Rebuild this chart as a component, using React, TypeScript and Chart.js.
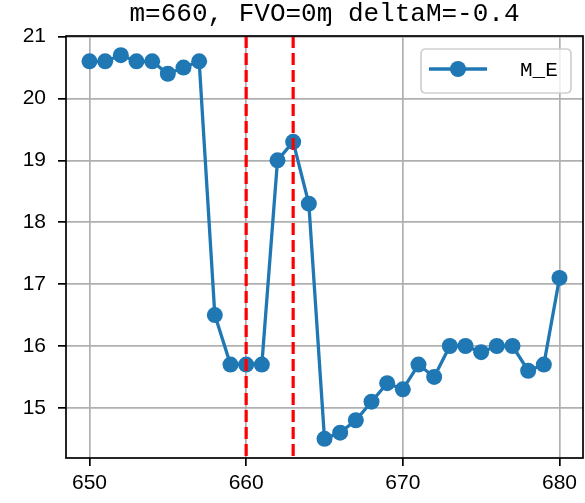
import React, { useEffect, useRef } from "react";
import { Chart, registerables } from "chart.js";

Chart.register(...registerables);

const xValues = [650, 651, 652, 653, 654, 655, 656, 657, 658, 659, 660, 661, 662, 663, 664, 665, 666, 667, 668, 669, 670, 671, 672, 673, 674, 675, 676, 677, 678, 679, 680];
const meValues = [20.6, 20.6, 20.7, 20.6, 20.6, 20.4, 20.5, 20.6, 16.5, 15.7, 15.7, 15.7, 19.0, 19.3, 18.3, 14.5, 14.6, 14.8, 15.1, 15.4, 15.3, 15.7, 15.5, 16.0, 16.0, 15.9, 16.0, 16.0, 15.6, 15.7, 17.1];
const xTicks = [650, 660, 670, 680];
const yTicks = [15, 16, 17, 18, 19, 20, 21];
const vLines = [660, 663];
const seriesLabel = "M_E";
const titleText = "m=660, FVO=0ɱ deltaM=-0.4";

const BLUE = "#1f77b4";
const tickFont = { family: "'Liberation Sans', Arial, sans-serif", size: 21 };

export default function App() {
  const ref = useRef<HTMLCanvasElement | null>(null);

  useEffect(() => {
    const canvas = ref.current;
    if (!canvas) return;

    const overlay = {
      id: "overlay",
      afterDatasetsDraw(chart: any) {
        const { ctx, chartArea, scales } = chart;
        ctx.save();
        ctx.beginPath();
        ctx.rect(chartArea.left, chartArea.top, chartArea.right - chartArea.left, chartArea.bottom - chartArea.top);
        ctx.clip();
        ctx.strokeStyle = "#ff0000";
        ctx.lineWidth = 3.2;
        ctx.setLineDash([12, 5]);
        for (const v of vLines) {
          const px = scales.x.getPixelForValue(v);
          ctx.beginPath();
          ctx.moveTo(px, chartArea.top);
          ctx.lineTo(px, chartArea.bottom);
          ctx.stroke();
        }
        ctx.restore();
      },
      afterDraw(chart: any) {
        const { ctx, chartArea } = chart;
        ctx.save();
        // axes frame
        ctx.strokeStyle = "#000";
        ctx.lineWidth = 1.7;
        ctx.setLineDash([]);
        ctx.strokeRect(chartArea.left, chartArea.top, chartArea.right - chartArea.left, chartArea.bottom - chartArea.top);

        // legend
        const lx = 421, ly = 49, lw = 150, lh = 44, r = 5;
        ctx.beginPath();
        ctx.moveTo(lx + r, ly);
        ctx.lineTo(lx + lw - r, ly);
        ctx.quadraticCurveTo(lx + lw, ly, lx + lw, ly + r);
        ctx.lineTo(lx + lw, ly + lh - r);
        ctx.quadraticCurveTo(lx + lw, ly + lh, lx + lw - r, ly + lh);
        ctx.lineTo(lx + r, ly + lh);
        ctx.quadraticCurveTo(lx, ly + lh, lx, ly + lh - r);
        ctx.lineTo(lx, ly + r);
        ctx.quadraticCurveTo(lx, ly, lx + r, ly);
        ctx.closePath();
        ctx.fillStyle = "rgba(255,255,255,0.8)";
        ctx.fill();
        ctx.strokeStyle = "#d0d0d0";
        ctx.lineWidth = 1.7;
        ctx.stroke();

        const cy = ly + 20;
        ctx.strokeStyle = BLUE;
        ctx.lineWidth = 3.3;
        ctx.beginPath();
        ctx.moveTo(429, cy);
        ctx.lineTo(487, cy);
        ctx.stroke();
        ctx.fillStyle = BLUE;
        ctx.beginPath();
        ctx.arc(458, cy, 8, 0, Math.PI * 2);
        ctx.fill();

        ctx.fillStyle = "#000";
        ctx.font = "21px 'Liberation Mono', 'DejaVu Sans Mono', monospace";
        ctx.textAlign = "left";
        ctx.textBaseline = "middle";
        ctx.fillText(seriesLabel, 520, cy + 1);

        // title
        ctx.font = "26px 'Liberation Mono', 'DejaVu Sans Mono', 'Noto Sans CJK SC', monospace";
        ctx.textAlign = "center";
        ctx.textBaseline = "alphabetic";
        ctx.fillText(titleText, (chartArea.left + chartArea.right) / 2, 20.5);
        ctx.restore();
      },
    };

    const gridOpts = {
      color: "#b0b0b0",
      lineWidth: 1.7,
      tickColor: "#000",
      tickLength: 8,
      tickWidth: 1.7,
      drawOnChartArea: true,
    };

    const chart = new Chart(canvas, {
      type: "line",
      data: {
        datasets: [
          {
            label: seriesLabel,
            data: xValues.map((x, i) => ({ x, y: meValues[i] })),
            borderColor: BLUE,
            backgroundColor: BLUE,
            borderWidth: 3.3,
            pointRadius: 8,
            pointHoverRadius: 8,
            pointBackgroundColor: BLUE,
            pointBorderWidth: 0,
            tension: 0,
            fill: false,
          },
        ],
      },
      options: {
        animation: false,
        responsive: false,
        maintainAspectRatio: false,
        events: [],
        layout: { autoPadding: false, padding: { left: 0, right: 2, top: 36, bottom: 0 } },
        plugins: {
          legend: { display: false },
          title: { display: false },
          tooltip: { enabled: false },
        },
        scales: {
          x: {
            type: "linear",
            min: 648.5,
            max: 681.5,
            afterBuildTicks: (s: any) => {
              s.ticks = xTicks.map((v) => ({ value: v }));
            },
            afterFit: (s: any) => {
              s.height = 45;
              s.paddingLeft = 0;
              s.paddingRight = 0;
            },
            ticks: {
              font: tickFont,
              color: "#000",
              padding: 5,
              maxRotation: 0,
              autoSkip: false,
              callback: (v: any) => String(v),
            },
            grid: gridOpts,
            border: { display: false },
          },
          y: {
            type: "linear",
            min: 14.19,
            max: 21.01,
            afterBuildTicks: (s: any) => {
              s.ticks = yTicks.map((v) => ({ value: v }));
            },
            afterFit: (s: any) => {
              s.width = 66;
              s.paddingTop = 0;
              s.paddingBottom = 0;
            },
            ticks: {
              font: tickFont,
              color: "#000",
              padding: 12,
              autoSkip: false,
              callback: (v: any) => String(v),
            },
            grid: gridOpts,
            border: { display: false },
          },
        },
      },
      plugins: [overlay],
    } as any);

    return () => chart.destroy();
  }, []);

  return (
    <canvas
      ref={ref}
      width={585}
      height={503}
      style={{ position: "absolute", left: 0, top: 0, width: 585, height: 503 }}
    />
  );
}
